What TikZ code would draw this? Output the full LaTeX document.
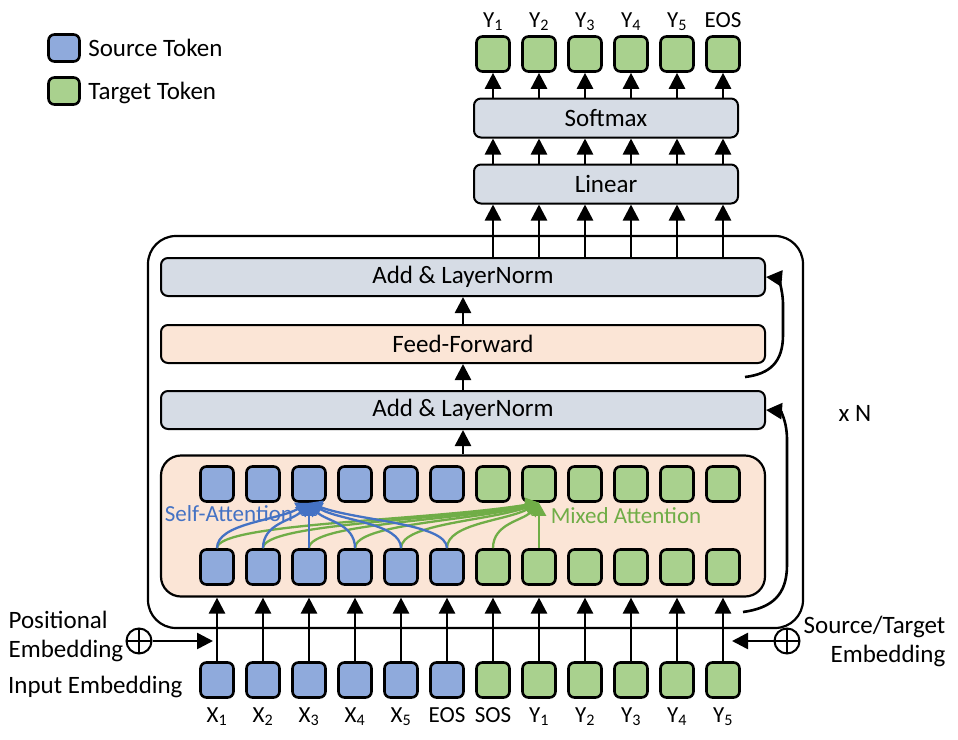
\documentclass[tikz,border=0pt]{standalone}
\usepackage{fontspec}
\setmainfont{Carlito}
\usetikzlibrary{positioning,calc,arrows.meta}

\definecolor{srcfill}{HTML}{8FAADC}
\definecolor{tgtfill}{HTML}{A9D18E}
\definecolor{srcline}{HTML}{4472C4}
\definecolor{tgtline}{HTML}{70AD47}
\definecolor{grayfill}{HTML}{D6DCE5}
\definecolor{peach}{HTML}{FBE5D6}

\tikzset{
  tokbox/.style={draw, line width=2.6pt, rounded corners=6pt, minimum width=33pt, minimum height=35pt, inner sep=0pt},
  layerbox/.style={draw, line width=2pt, rounded corners=7pt, minimum width=604pt, minimum height=38pt, inner sep=0pt},
  arr/.style={-{Triangle[length=16pt,width=16pt]}, line width=2.6pt},
  attarr/.style={-{Triangle[length=13pt,width=14pt]}, line width=2.3pt},
  oplus/.style={circle, draw, line width=2pt, minimum size=25pt, inner sep=0pt,
    path picture={\draw[line width=2pt] (path picture bounding box.north) -- (path picture bounding box.south)
      (path picture bounding box.west) -- (path picture bounding box.east);}},
  toklbl/.style={font=\fontsize{23}{26}\selectfont, anchor=base},
}

\begin{document}
\begin{tikzpicture}[x=1pt, y=-1pt, font=\fontsize{25}{29}\selectfont]
\useasboundingbox (0,0) rectangle (958,739);

% legend
\node[tokbox, fill=srcfill, minimum width=31pt, minimum height=27pt] (lgsrc) at (64,48) {};
\node[right=4pt of lgsrc] (lgsrctxt) {Source Token};
\node[tokbox, fill=tgtfill, minimum width=31pt, minimum height=27pt] (lgtgt) at (64,91) {};
\node[right=4pt of lgtgt, text depth=0pt] (lgtgttxt) {Target Token};

% encoder block
\node[draw, line width=2.2pt, rounded corners=28pt, minimum width=655pt, minimum height=392pt] (blk) at (475.5,432) {};
\node[layerbox, fill=grayfill] (an1) at (463,277) {Add \& LayerNorm};
\node[layerbox, fill=peach] (ff) at (463,344) {Feed-Forward};
\node[layerbox, fill=grayfill] (an2) at (463,410) {Add \& LayerNorm};
\node[draw, fill=peach, line width=2.2pt, rounded corners=20pt, minimum width=604pt, minimum height=141pt] (attn) at (463,526) {};
\node (rep) at (855,413) {x N};

\draw[arr] (ff) -- (an1);
\draw[arr] (an2) -- (ff);
\draw[arr] (attn) -- (an2);

% token rows
\foreach \i in {1,...,12} {
  \pgfmathsetmacro\x{217+46*(\i-1)}
  \ifnum\i<7 \def\col{srcfill}\else\def\col{tgtfill}\fi
  \node[tokbox, fill=\col] (t\i) at (\x,484) {};
  \node[tokbox, fill=\col] (b\i) at (\x,567) {};
  \node[tokbox, fill=\col] (in\i) at (\x,680) {};
  \draw[arr] (in\i) -- (attn.south -| in\i);
}
\foreach \i/\t in {1/X\textsubscript{1},2/X\textsubscript{2},3/X\textsubscript{3},4/X\textsubscript{4},5/X\textsubscript{5},6/EOS,
  7/SOS,8/Y\textsubscript{1},9/Y\textsubscript{2},10/Y\textsubscript{3},11/Y\textsubscript{4},12/Y\textsubscript{5}}
  \node[toklbl] (inl\i) at (in\i |- 0,722) {\t};

% attention
\foreach \i in {1,...,7} {
  \pgfmathsetmacro\dx{(217+46*(\i-1)-539)*0.35}
  \draw[attarr, tgtline] (b\i.north) .. controls +(0,-25) and +(\dx,18) .. (t8.south);
}
\draw[attarr, tgtline] (b8) -- (t8);
\foreach \i in {1,2,4,5,6} {
  \pgfmathsetmacro\dx{(217+46*(\i-1)-310)*0.35}
  \draw[attarr, srcline] (b\i.north) .. controls +(0,-25) and +(\dx,18) .. (t3.south);
}
\draw[attarr, srcline] (b3) -- (t3);
\node[text=srcline, font=\fontsize{23}{26}\selectfont] (satxt) at (229,514) {Self-Attention};
\node[text=tgtline, font=\fontsize{23}{26}\selectfont] (matxt) at (626,516) {Mixed Attention};

% residual connections
\coordinate (r1) at (743,612);
\draw[arr] (r1) .. controls (772,608) and (787,595) .. (787,565) -- (787,440) .. controls (787,420) and (780,411) .. (an2.east);
\coordinate (r2) at (745,377);
\draw[arr] (r2) .. controls (770,374) and (783,362) .. (783,335) -- (783,305) .. controls (783,288) and (777,278) .. (an1.east);

% output head
\node[draw, fill=grayfill, line width=2pt, rounded corners=7pt, minimum width=264pt, minimum height=39pt] (lin) at (606,184) {Linear};
\node[draw, fill=grayfill, line width=2pt, rounded corners=7pt, minimum width=264pt, minimum height=39pt] (sm) at (606,118) {Softmax};
\foreach \j/\t in {7/Y\textsubscript{1},8/Y\textsubscript{2},9/Y\textsubscript{3},10/Y\textsubscript{4},11/Y\textsubscript{5},12/EOS} {
  \node[tokbox, fill=tgtfill] (o\j) at (t\j |- 0,54) {};
  \node[toklbl] (ol\j) at (o\j |- 0,27) {\t};
  \draw[arr] (sm.north -| o\j) -- (o\j.south);
  \draw[arr] (lin.north -| o\j) -- (sm.south -| o\j);
  \draw[arr] (an1.north -| o\j) -- (lin.south -| o\j);
}

% embeddings
\node[oplus] (pe) at (139,641) {};
\coordinate (peend) at (213,641);
\draw[arr] (pe) -- (peend);
\node[align=left, anchor=east, inner sep=2pt] (petxt) at ([yshift=5pt]pe.west) {Positional\\Embedding};
\node[anchor=base west, inner sep=0pt] (ietxt) at (8,693) {Input Embedding};
\node[oplus] (ste) at (787,641) {};
\coordinate (steend) at (732,641);
\draw[arr] (ste) -- (steend);
\node[align=right, anchor=west, inner sep=3pt] (stetxt) at (ste.east) {Source/Target\\Embedding};
\end{tikzpicture}
\end{document}
